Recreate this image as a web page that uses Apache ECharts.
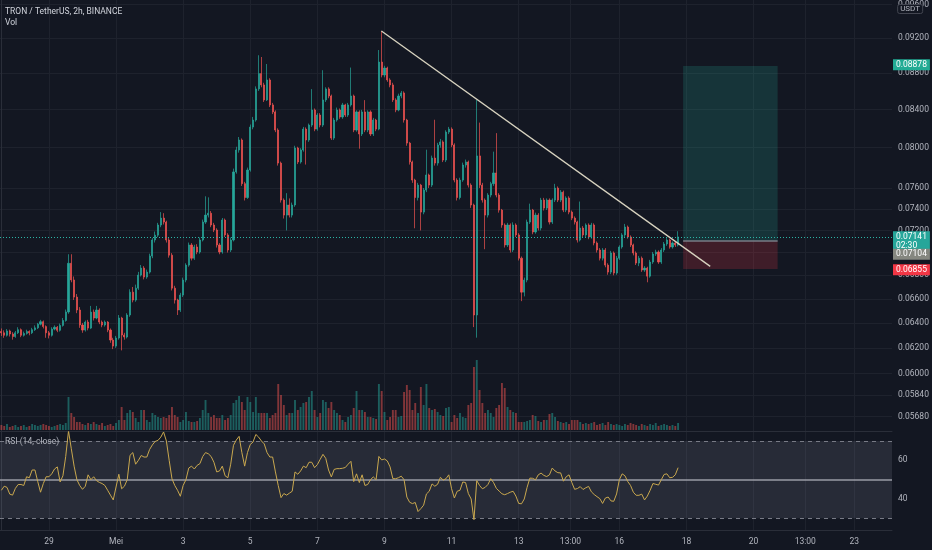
<!DOCTYPE html>
<html><head><meta charset="utf-8">
<script src="https://cdn.jsdelivr.net/npm/echarts@6/dist/echarts.min.js"></script>
<style>html,body{margin:0;padding:0;background:#131722}#c{width:932px;height:550px}</style>
</head><body><div id="c"></div>
<script>
// prices in units of 0.00001 USDT, one candle per 2h, index 0 = first visible candle
const openFirst = 6330;
const closeP = [
6320,6300,6335,6310,6290,6320,6345,6300,6315,6330,
6320,6345,6360,6390,6410,6370,6320,6300,6350,6365,
6340,6380,6420,6490,6905,6760,6614,6506,6383,6342,
6407,6358,6489,6440,6506,6407,6383,6407,6342,6262,
6214,6278,6440,6302,6286,6465,6656,6589,6690,6802,
6863,6785,6828,6969,7113,7157,7250,7314,7277,7113,
6977,6690,6589,6506,6631,6759,6889,7068,6950,7050,
7005,7113,7277,7342,7360,7250,7204,7068,7005,7296,
7159,7023,7113,7757,7977,8079,7642,7508,7776,8213,
8287,8622,8792,8666,8502,8721,8448,8373,8182,7845,
7484,7342,7437,7342,7437,7997,7856,7977,8192,8079,
8234,8394,8192,8340,8234,8502,8622,8545,8099,8287,
8394,8319,8448,8340,8448,8545,8182,8373,8141,8373,
8182,8373,8141,8287,8192,8922,8776,8855,8721,8666,
8502,8394,8545,8578,8287,8047,7856,7677,7508,7628,
7370,7580,7727,7628,7895,7845,8028,8059,7875,8161,
8192,8028,7677,7508,7677,7826,7856,7628,7437,6465,
7917,7628,7484,7342,7532,7642,7747,7532,7389,7250,
7068,7250,7023,7250,7159,6950,6656,6759,7277,7389,
7186,7342,7222,7484,7408,7484,7277,7484,7599,7484,
7560,7389,7504,7370,7314,7277,7113,7222,7159,7250,
7140,7250,7086,7023,6950,7023,6889,6828,6996,6820,
6950,7050,7159,7231,7140,7068,6996,6907,6950,6846,
6863,6793,6916,6987,7005,6916,7023,7077,7113,7050,
7086,7068,7141];
const highP = [
6355,6340,6350,6345,6325,6335,6365,6355,6330,6345,
6340,6360,6380,6400,6425,6420,6380,6335,6365,6380,
6375,6395,6440,6510,6985,6985,6790,6640,6530,6400,
6420,6425,6540,6510,6540,6520,6420,6420,6415,6355,
6280,6295,6465,6450,6320,6480,6680,6700,6720,6830,
6890,6880,6850,6990,7130,7190,7270,7370,7360,7290,
7130,6995,6710,6600,6650,6780,6905,7090,7085,7070,
7075,7135,7300,7520,7510,7380,7270,7220,7085,7315,
7310,7175,7135,7790,8010,8110,8095,7660,7800,8240,
8320,8650,9000,8980,8690,8900,8740,8470,8390,8200,
7860,7500,7550,7500,7460,8020,8010,7995,8215,8210,
8250,8620,8410,8360,8360,8830,8640,8640,8560,8310,
8420,8410,8470,8460,8470,8860,8560,8390,8390,8395,
8500,8390,8390,8310,8300,9060,9283,8880,8870,8740,
8690,8520,8570,8600,8595,8300,8060,7870,7690,7650,
7640,7600,7980,7740,7920,8290,8050,8090,8075,8180,
8215,8210,8045,7695,7700,7850,7880,7870,7645,7450,
8502,8260,7650,7500,7550,7660,7960,8150,7550,7400,
7265,7270,7265,7275,7265,7175,6965,6780,7300,7450,
7400,7365,7360,7505,7505,7500,7500,7500,7640,7615,
7580,7575,7520,7520,7385,7330,7290,7470,7240,7265,
7265,7270,7265,7100,7040,7040,7040,6905,7015,7010,
6970,7065,7175,7260,7245,7155,7080,7010,6970,6965,
6880,6875,6935,7005,7025,7020,7040,7095,7130,7125,
7100,7100,7193];
const lowP = [
6295,6280,6290,6290,6265,6280,6310,6285,6290,6305,
6300,6310,6335,6350,6380,6355,6280,6275,6290,6340,
6325,6330,6370,6410,6475,6740,6590,6480,6360,6320,
6330,6340,6350,6420,6430,6390,6365,6370,6325,6240,
6190,6200,6265,6180,6265,6275,6450,6570,6575,6675,
6790,6765,6770,6815,6950,7090,7140,7230,7255,7090,
6955,6670,6560,6465,6490,6615,6740,6875,6930,6935,
6985,6990,7100,7260,7320,7230,7185,7045,6985,6990,
7140,7000,7005,7100,7740,7950,7620,7480,7495,7760,
8190,8270,8600,8640,8480,8490,8425,8350,8160,7820,
7460,7310,7200,7320,7320,7420,7835,7840,7960,7830,
8060,8215,8170,8175,8210,8215,8480,8520,8080,8080,
8270,8300,8300,8320,8320,8430,8160,8165,7990,8120,
8160,8160,8120,8120,8170,8180,8750,8750,8700,8640,
8480,8370,8380,8520,8260,8020,7830,7650,7220,7480,
7200,7350,7560,7600,7610,7820,7820,8000,7855,7855,
8140,8005,7655,7480,7490,7660,7800,7605,7410,6366,
6281,7600,7460,7030,7320,7510,7620,7510,7365,7225,
7045,7050,7000,7005,7140,6930,6580,6620,6740,7260,
7165,7170,7200,7200,7385,7390,7255,7260,7465,7465,
7465,7370,7370,7350,7295,7255,7090,7100,7140,7140,
7120,7125,7065,7000,6930,6930,6870,6805,6810,6800,
6805,6935,7035,7140,7125,7050,6975,6890,6880,6830,
6830,6740,6780,6900,6970,6900,6900,7005,7060,7035,
7035,7050,7055];
const volume = [
5,4,6,3,4,5,3,4,5,3,
4,6,5,4,5,6,5,4,3,4,
5,6,5,7,33,17,13,8,8,6,
5,7,6,8,6,5,7,4,5,6,
4,7,10,23,10,17,20,18,12,8,
20,20,10,8,17,15,13,12,13,12,
15,23,15,13,8,10,18,9,8,8,
9,12,20,30,17,13,15,12,12,15,
10,12,15,27,30,34,28,20,33,28,
18,33,17,17,17,17,12,15,17,46,
35,25,15,17,17,30,20,23,27,28,
33,39,20,13,17,30,28,22,28,20,
17,15,10,8,13,15,22,39,20,20,
18,13,13,12,11,46,39,18,10,13,
20,20,13,14,38,45,40,20,27,17,
43,25,46,22,20,21,18,15,14,22,
23,8,15,12,17,13,12,25,27,63,
70,40,27,17,20,17,13,22,25,47,
42,23,20,18,17,8,8,8,9,10,
15,14,9,8,10,10,16,17,13,9,
8,7,8,6,10,10,10,8,6,7,
6,7,8,5,6,7,5,8,6,5,
6,5,4,6,5,7,6,5,4,6,
5,4,6,5,7,4,5,6,5,4,
5,4,7];
const rsi = [
44.5,46.6,46,42.5,42,45.5,47.5,47.5,47,51.5,
51,55,55,49,43.5,48,51.5,51.5,53,55.5,
56.6,48.8,52,62,75.2,66,57,50,47,45,
46.6,52.5,50,51.5,49.5,48.6,48,47,44.5,42,
39.5,46.2,52.8,45.3,46.6,50,62.6,64,58,60,
62.5,61.7,61.7,65.6,68,69.8,70.3,72,74.7,70,
60,50.5,47,44.5,41.4,47,50,56,57,55.5,
57.4,58.3,62,64,63.4,62,59,54,54.5,57,
52,51,58,67.8,70.5,72.4,64,57,64,68.2,
69.5,73.4,72,70,68.5,64,61.7,61.7,54,47,
40.7,42.8,42,43,44,54,52.8,54.5,57,56.2,
59,59,56.2,57.8,60.5,63.1,61,55,51.4,55.3,
55.7,55.7,55.9,56.3,58,59.5,49,53,48.5,52.5,
47,47.5,50,51.4,50,62,60.2,60.7,59.7,56.6,
50.5,50.5,51,51.8,50,41,38.3,37.6,38.2,33.5,
35,36.8,42.6,44,47.8,46.6,47.6,51.2,49.8,50.5,
52.5,45.3,40.5,44,44.5,48.8,48.5,42.8,40,29.3,
49.5,47,45.3,46,47.5,50.5,48.5,45.5,44.1,42.7,
42.2,42.8,43.5,44,41.5,37.7,37.5,40,46,50.8,
50.7,49.9,52.5,53.4,52.2,51.6,52.5,56,54.5,53.6,
53.5,49.2,51.5,52.5,48.5,45,45.4,46.4,44.9,45.8,
46.5,43.7,42.3,41.2,40.2,37.7,40.5,41,39,38.8,
42.6,50,53,52,49,47,43.5,41.9,41.9,42.5,
39.5,41.5,44.5,48,47.6,47.2,50,52.7,53,51,
51.2,52.5,56.2];
const xTickIdx  = [17,41,65,89,113,137,161,185,203.5,221,245,269,287.5,305];
const xTickText = ['29','Mei','3','5','7','9','11','13','13:00','16','18','20','13:00','23'];
const priceTicks = [0.096,0.092,0.088,0.084,0.080,0.076,0.074,0.072,0.070,0.068,0.066,0.064,0.062,0.060,0.0584,0.0568];
const rsiTicks = [40,60];
const rsiLevels = [70,50,30];
const trendLine = [[135.9,0.09283],[253.5,0.06878]];
const posX = [243.8,277.6];
const posTarget = 0.08878, posEntry = 0.07104, posStop = 0.06855;
const lastPrice = 0.07141;
const countdown = '02:30';

const priceMin = 0.05577, priceMax = 0.09656;
const rsiMin = 23.95, rsiMax = 74.66;
const xMin = -0.5, xMax = 318.5;

const L = Math.log;
const FONT = 'Roboto';
const FS = 8.5;
const UP = '#26a69a', DOWN = '#ef5350';
const gridCol = '#1e222d', sepCol = '#2a2e39', txt = '#b2b5be';

const candles = closeP.map((c,i)=>{
  const o = i===0 ? openFirst : closeP[i-1];
  return [i, L(o/1e5), L(c/1e5), L(lowP[i]/1e5), L(highP[i]/1e5)];
});
const volData = volume.map((v,i)=>{
  const o = i===0 ? openFirst : closeP[i-1];
  const up = closeP[i] >= o;
  return {value:[i,v], itemStyle:{color: up ? 'rgba(38,166,154,0.5)' : 'rgba(239,83,80,0.5)'}};
});
const rsiData = rsi.map((v,i)=>[i,v]);

function tag(price, text, bg, dy){
  return {yAxis:L(price), lineStyle:{color:'rgba(0,0,0,0)', width:0},
    label:{show:true, position:'end', formatter:text, backgroundColor:bg, color:'#ffffff',
      fontSize:FS, fontFamily:FONT, lineHeight:9.5, padding:[1,3,0.5,3], distance:1, offset:[0,dy]}};
}

const xAx = (g, extra) => Object.assign({
  type:'value', gridIndex:g, min:xMin, max:xMax,
  axisTick:{show:false, customValues:xTickIdx},
  axisLabel:{show:false, customValues:xTickIdx},
  splitLine:{show:true, lineStyle:{color:gridCol, width:1}},
  axisLine:{show:false}
}, extra||{});

const chart = echarts.init(document.getElementById('c'), null, {renderer:'canvas'});
chart.setOption({
  backgroundColor:'#131722',
  animation:false,
  title:[
    {text:'TRON / TetherUS, 2h, BINANCE', left:5, top:7, padding:0, textStyle:{color:'#d1d4dc', fontSize:FS, fontWeight:'normal', fontFamily:FONT}},
    {text:'Vol', left:5, top:18.5, padding:0, textStyle:{color:'#d1d4dc', fontSize:FS, fontWeight:'normal', fontFamily:FONT}},
    {text:'RSI (14, close)', left:5, top:437, padding:0, textStyle:{color:txt, fontSize:FS, fontWeight:'normal', fontFamily:FONT}},
    {text:'USDT', right:9, top:4, padding:[1,3], borderColor:'#434651', borderWidth:1, borderRadius:2, backgroundColor:'#131722', textStyle:{color:txt, fontSize:8, fontWeight:'normal', fontFamily:FONT}, z:20}
  ],
  grid:[
    {left:0, right:40, top:0, height:431},
    {left:0, right:40, top:360, height:70},
    {left:0, right:40, top:432, height:98}
  ],
  xAxis:[
    xAx(0, {axisLine:{show:true, onZero:false, lineStyle:{color:sepCol}}}),
    xAx(1, {splitLine:{show:false}}),
    xAx(2, {axisLine:{show:true, onZero:false, lineStyle:{color:sepCol}},
      axisLabel:{show:true, customValues:xTickIdx, color:txt, fontSize:FS, fontFamily:FONT, margin:7,
        formatter:v=>{const k=xTickIdx.indexOf(v); return k>=0?xTickText[k]:'';}}})
  ],
  yAxis:[
    {type:'value', gridIndex:0, position:'right', min:L(priceMin), max:L(priceMax), scale:true,
      axisLine:{show:true, lineStyle:{color:sepCol}},
      axisTick:{show:false, customValues:priceTicks.map(L)},
      axisLabel:{customValues:priceTicks.map(L), color:txt, fontSize:FS, fontFamily:FONT, margin:6,
        formatter:v=>Math.exp(v).toFixed(5)},
      splitLine:{show:true, lineStyle:{color:gridCol}}},
    {type:'value', gridIndex:1, min:0, max:70, show:false, splitLine:{show:false}},
    {type:'value', gridIndex:2, position:'right', min:rsiMin, max:rsiMax,
      axisLine:{show:true, lineStyle:{color:sepCol}},
      axisTick:{show:false, customValues:rsiTicks},
      axisLabel:{customValues:rsiTicks, color:txt, fontSize:FS, fontFamily:FONT, margin:6},
      splitLine:{show:false}}
  ],
  series:[
    {type:'candlestick', xAxisIndex:0, yAxisIndex:0, data:candles, barWidth:1.6,
      itemStyle:{color:UP, color0:DOWN, borderColor:UP, borderColor0:DOWN, borderWidth:0.7},
      markLine:{silent:true, symbol:['none','none'], animation:false,
        data:[{yAxis:L(lastPrice), lineStyle:{color:'#2bb3a5', type:[1,2], width:1},
          label:{show:true, position:'end', formatter:lastPrice.toFixed(5)+'\n'+countdown, backgroundColor:UP, color:'#ffffff',
            fontSize:FS, fontFamily:FONT, lineHeight:9.5, padding:[1,3,0.5,3], distance:1, offset:[0,4]}}]}},
    {type:'bar', xAxisIndex:1, yAxisIndex:1, data:volData, barWidth:1.9, silent:true},
    {type:'line', xAxisIndex:2, yAxisIndex:2, data:rsiData, symbol:'none', lineStyle:{color:'#c9a84f', width:1}, z:5,
      markArea:{silent:true, itemStyle:{color:'rgba(155,160,180,0.15)'}, data:[[{yAxis:rsiLevels[2]},{yAxis:rsiLevels[0]}]]},
      markLine:{silent:true, symbol:['none','none'], label:{show:false}, animation:false,
        data:[
          {yAxis:rsiLevels[0], lineStyle:{color:'#787b86', type:[4,4], width:1}},
          {yAxis:rsiLevels[1], lineStyle:{color:'#9a9ca6', type:'solid', width:1.5}},
          {yAxis:rsiLevels[2], lineStyle:{color:'#787b86', type:[4,4], width:1}}
        ]}},
    {type:'line', xAxisIndex:0, yAxisIndex:0, data:trendLine.map(p=>[p[0],L(p[1])]), symbol:'none',
      lineStyle:{color:'#d8d3c0', width:1.3}, z:6, silent:true,
      markArea:{silent:true, data:[
        [{xAxis:posX[0], yAxis:L(posTarget), itemStyle:{color:'rgba(34,171,148,0.2)'}},{xAxis:posX[1], yAxis:L(posEntry)}],
        [{xAxis:posX[0], yAxis:L(posEntry), itemStyle:{color:'rgba(242,54,69,0.2)'}},{xAxis:posX[1], yAxis:L(posStop)}]
      ]},
      markLine:{silent:true, symbol:['none','none'], animation:false, label:{show:false},
        data:[
          [{coord:[posX[0],L(posEntry)], lineStyle:{color:'#787b86', width:1.5, type:'solid'}},{coord:[posX[1],L(posEntry)]}],
          tag(posTarget, posTarget.toFixed(5), '#22ab94', 0),
          tag(posEntry, posEntry.toFixed(5), '#858780', 16.7),
          tag(posStop, posStop.toFixed(5), '#f23645', 1)
        ]}}
  ]
});
</script></body></html>
